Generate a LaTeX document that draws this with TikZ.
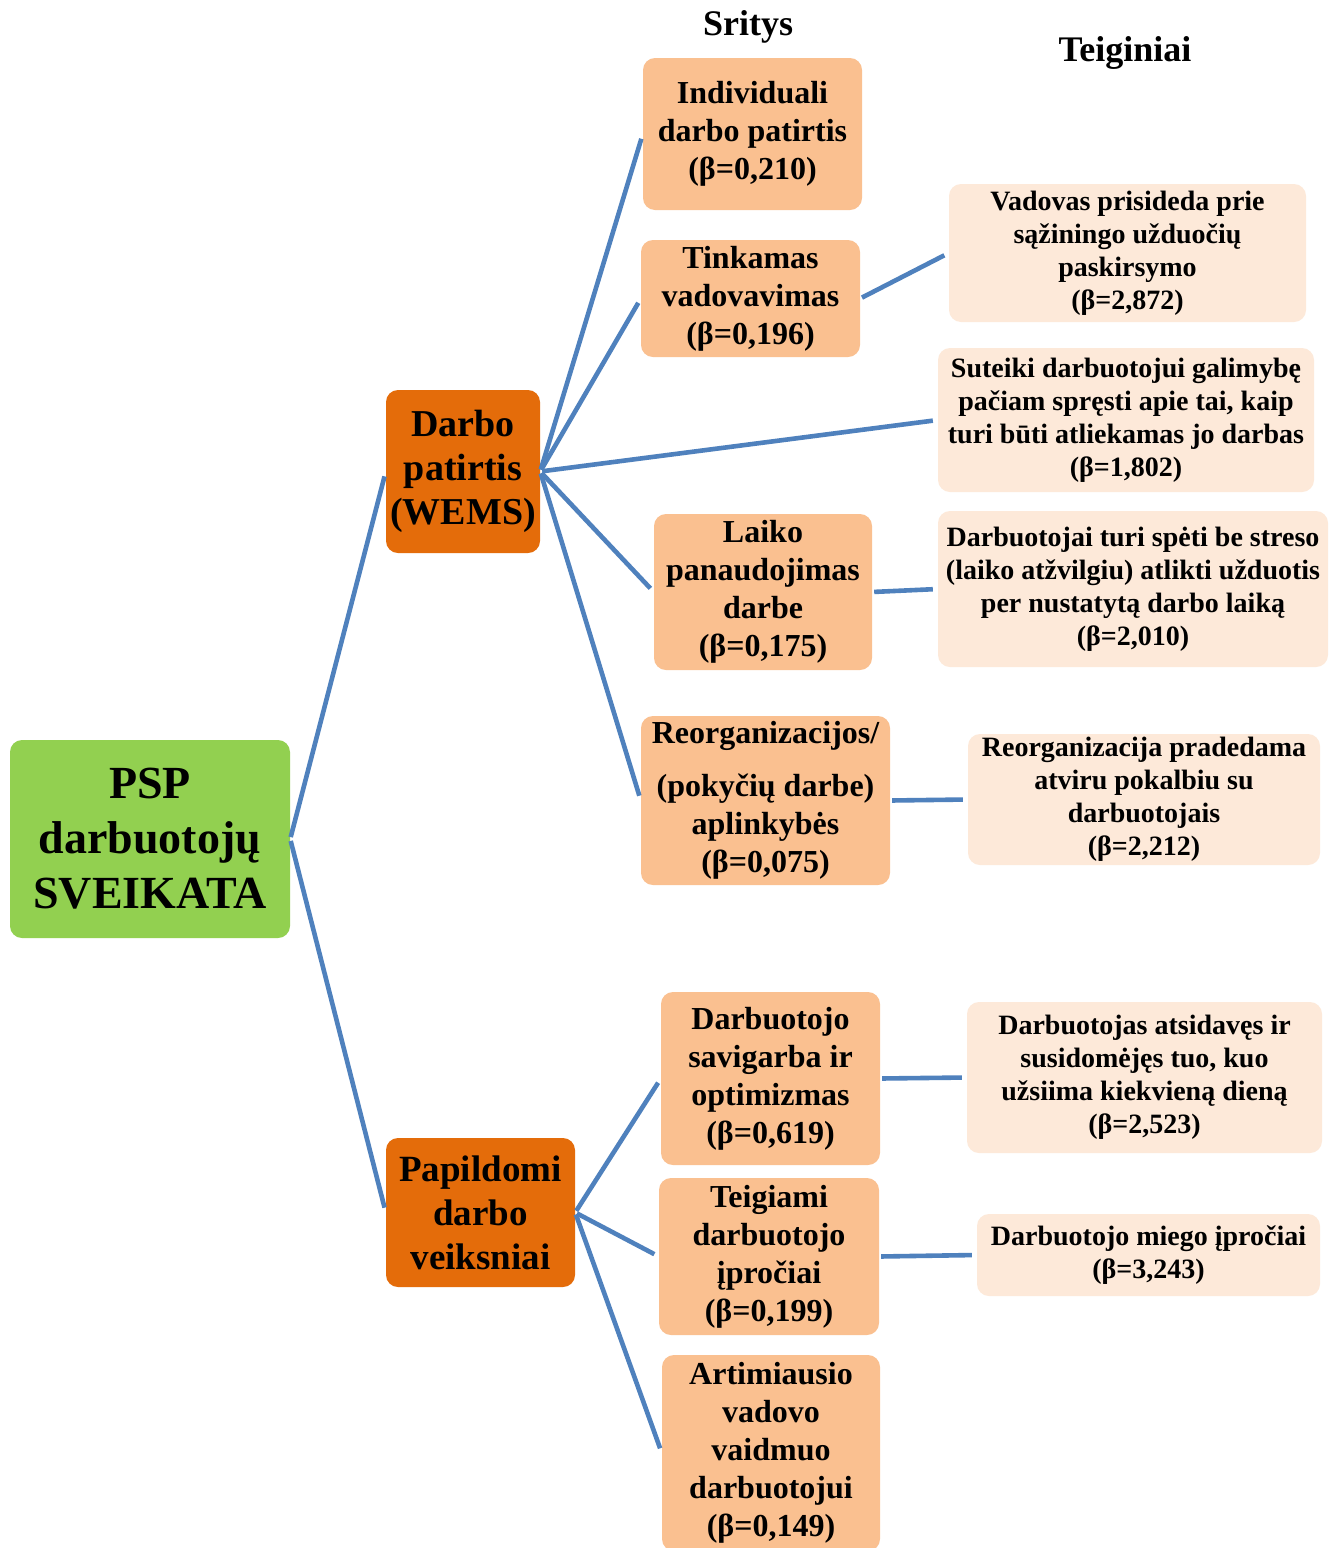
\documentclass[tikz,border=0pt]{standalone}
\usepackage{fontspec}
\setmainfont{Liberation Serif}
\definecolor{rootg}{HTML}{92D050}
\definecolor{lvlone}{HTML}{E46C0A}
\definecolor{lvltwo}{HTML}{FAC090}
\definecolor{lvlthree}{HTML}{FDE9D9}
\definecolor{conn}{HTML}{4F81BD}
\begin{document}
\begin{tikzpicture}[x=1pt,y=1pt,
  box/.style={rounded corners=12pt, inner sep=2pt, align=center},
  rootbox/.style={box, fill=rootg, font=\bfseries\fontsize{46}{55}\selectfont},
  mainbox/.style={box, fill=lvlone, font=\bfseries\fontsize{38}{44}\selectfont},
  areabox/.style={box, fill=lvltwo, font=\bfseries\fontsize{32}{38}\selectfont},
  claimbox/.style={box, fill=lvlthree, font=\bfseries\fontsize{28}{33}\selectfont},
  header/.style={font=\bfseries\fontsize{36}{40}\selectfont, inner sep=0pt},
  link/.style={draw=conn, line width=4.6pt, shorten <=2pt, shorten >=5pt}]
\useasboundingbox (0,0) rectangle (1337,-1548);
\fill[white] (0,0) rectangle (1337,-1548);

% headers
\node[header] (hsritys) at (748,-27) {Sritys};
\node[header] (hteig) at (1125,-53) {Teiginiai};

% root
\node[rootbox, minimum width=280pt, minimum height=198pt] (root) at (150,-839)
  {PSP\\darbuotojų\\SVEIKATA};

% level one
\node[mainbox, minimum width=154pt, minimum height=163pt] (darbo) at (463,-471.5)
  {Darbo\\patirtis\\(WEMS)};
\node[mainbox, minimum width=189pt, minimum height=149pt, font=\bfseries\fontsize{37}{44}\selectfont] (papil) at (480.5,-1212.5)
  {Papildomi\\darbo\\veiksniai};

% areas
\node[areabox, minimum width=219pt, minimum height=152pt] (ind) at (752.5,-134)
  {Individuali\\darbo patirtis\\(β=0,210)};
\node[areabox, minimum width=219pt, minimum height=117pt] (tink) at (750.5,-298.5)
  {Tinkamas\\vadovavimas\\(β=0,196)};
\node[areabox, minimum width=218pt, minimum height=156pt] (laiko) at (763,-592)
  {Laiko\\panaudojimas\\darbe\\(β=0,175)};
\node[areabox, minimum width=249pt, minimum height=169pt] (reorg) at (765.5,-800.5)
  {Reorganizacijos/\\[15pt](pokyčių darbe)\\aplinkybės\\(β=0,075)};
\node[areabox, minimum width=219pt, minimum height=173pt] (savig) at (770.5,-1078.5)
  {Darbuotojo\\savigarba ir\\optimizmas\\(β=0,619)};
\node[areabox, minimum width=220pt, minimum height=157pt] (teig) at (769,-1256.5)
  {Teigiami\\darbuotojo\\įpročiai\\(β=0,199)};
\node[areabox, minimum width=218pt, minimum height=196pt] (artim) at (771,-1453)
  {Artimiausio\\vadovo\\vaidmuo\\darbuotojui\\(β=0,149)};

% claims
\node[claimbox, minimum width=357pt, minimum height=138pt] (vad) at (1127.5,-253)
  {Vadovas prisideda prie\\sąžiningo užduočių\\paskirsymo\\(β=2,872)};
\node[claimbox, minimum width=376pt, minimum height=144pt] (sut) at (1126,-420)
  {Suteiki darbuotojui galimybę\\pačiam spręsti apie tai, kaip\\turi būti atliekamas jo darbas\\(β=1,802)};
\node[claimbox, minimum width=390pt, minimum height=156pt] (darbt) at (1133,-589)
  {Darbuotojai turi spėti be streso\\(laiko atžvilgiu) atlikti užduotis\\per nustatytą darbo laiką\\(β=2,010)};
\node[claimbox, minimum width=352pt, minimum height=131pt] (reorgt) at (1144,-799.5)
  {Reorganizacija pradedama\\atviru pokalbiu su\\darbuotojais\\(β=2,212)};
\node[claimbox, minimum width=355pt, minimum height=151pt] (atsid) at (1144.5,-1077.5)
  {Darbuotojas atsidavęs ir\\susidomėjęs tuo, kuo\\užsiima kiekvieną dieną\\(β=2,523)};
\node[claimbox, minimum width=343pt, minimum height=82pt] (miego) at (1148.5,-1255)
  {Darbuotojo miego įpročiai\\(β=3,243)};

% connectors
\draw[link] (root.east) -- (darbo.west);
\draw[link] (root.east) -- (papil.west);
\draw[link] (darbo.east) -- (ind.west);
\draw[link] (darbo.east) -- (tink.west);
\draw[link] (darbo.east) -- (sut.west);
\draw[link] (darbo.east) -- (laiko.west);
\draw[link] (darbo.east) -- (reorg.west);
\draw[link] (papil.east) -- (savig.west);
\draw[link] (papil.east) -- (teig.west);
\draw[link] (papil.east) -- (artim.west);
\draw[link] (tink.east) -- (vad.west);
\draw[link] (laiko.east) -- (darbt.west);
\draw[link] (reorg.east) -- (reorgt.west);
\draw[link] (savig.east) -- (atsid.west);
\draw[link] (teig.east) -- (miego.west);
\end{tikzpicture}
\end{document}
